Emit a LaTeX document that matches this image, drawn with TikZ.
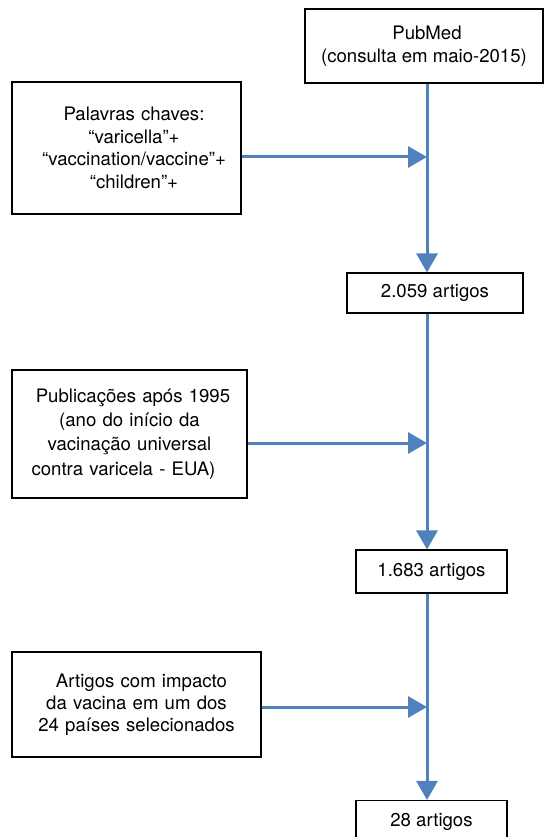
\documentclass[tikz,border=0pt]{standalone}
\usepackage{fontspec}
\setmainfont{TeX Gyre Heros}
\usetikzlibrary{arrows.meta}
\definecolor{flowblue}{HTML}{4F81BD}
\begin{document}
\begin{tikzpicture}[x=1pt,y=-1pt,
  box/.style={draw=black, line width=1.1pt, fill=white, align=center, inner sep=0pt,
              font=\fontsize{18.6}{22.7}\selectfont},
  flow/.style={draw=flowblue, line width=3pt, -{Triangle[length=19pt,width=21pt]}}]
\useasboundingbox (0,0) rectangle (545,837);
% spine
\coordinate (spine) at (427,0);
% boxes
\node[box, minimum width=238pt, minimum height=74pt] (pub) at (424,46)
  {\hspace*{6pt}PubMed\\(consulta em maio-2015)};
\node[box, minimum width=229pt, minimum height=132pt, text width=229pt] (kw) at (126.5,148)
  {\hspace*{15pt}Palavras chaves:\\\hspace*{15pt}“varicella”+\\\hspace*{15pt}“vaccination/vaccine”+\\\hspace*{15pt}“children”+};
\node[box, minimum width=176pt, minimum height=40pt] (n1) at (435,293) {2.059 artigos};
\node[box, minimum width=235pt, minimum height=128pt, text width=235pt,
      font=\fontsize{18.6}{24.3}\selectfont] (pub2) at (129.5,434)
  {\hspace*{7pt}Publicações após 1995\\(ano do início da\\vacinação universal\\\hspace*{-12pt}contra varicela - EUA)};
\node[box, minimum width=151pt, minimum height=43pt] (n2) at (431.5,571.5) {1.683 artigos};
\node[box, minimum width=249pt, minimum height=105pt, text width=249pt,
      font=\fontsize{18.6}{22}\selectfont] (sel) at (136.5,704.5)
  {\hspace*{10pt}Artigos com impacto\\da vacina em um dos\\24 países selecionados};
\node[box, minimum width=151pt, minimum height=43pt] (n3) at (431.5,822) {28 artigos};
% junctions
\coordinate (j1) at (427,157);
\coordinate (j2) at (427,443);
\coordinate (j3) at (427,707);
% connectors
\draw[flow] (pub.south -| spine) -- (n1.north -| spine);
\draw[flow] (n1.south -| spine) -- (n2.north -| spine);
\draw[flow] (n2.south -| spine) -- (n3.north -| spine);
\draw[flow] (kw.east |- j1) -- (j1);
\draw[flow] (pub2.east |- j2) -- (j2);
\draw[flow] (sel.east |- j3) -- (j3);
\end{tikzpicture}
\end{document}
